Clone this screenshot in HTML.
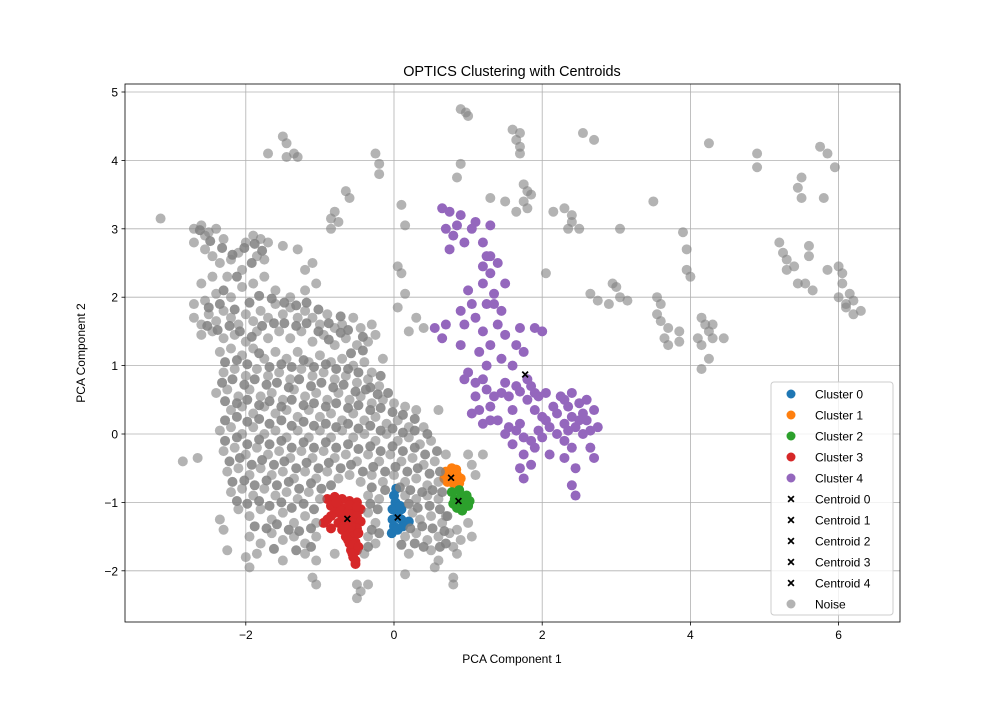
<!DOCTYPE html>
<html><head><meta charset="utf-8"><style>
body{margin:0;background:#fff;}
svg text{font-family:"Liberation Sans",sans-serif;fill:#000;}
</style></head><body>
<svg id="chart" width="1000" height="700" xmlns="http://www.w3.org/2000/svg">
<rect width="1000" height="700" fill="#fff"/>
<g id="grid"></g><g id="marks"></g><g id="axes"></g><g id="legend"></g>
</svg>
<script>
const xTicks=[-2,0,2,4,6];
const yTicks=[-2,-1,0,1,2,3,4,5];
const clusterNames=["Cluster 0","Cluster 1","Cluster 2","Cluster 3","Cluster 4"];
const clusterColors=["#1f77b4","#ff7f0e","#2ca02c","#d62728","#9467bd"];
const centroidX=[0.05,0.77,0.87,-0.63,1.77];
const centroidY=[-1.22,-0.64,-0.98,-1.24,0.87];
const cluster0=[0,-0.9,0.02,-1.0,-0.02,-1.1,0.05,-1.2,0.1,-1.25,0.15,-1.3,0.2,-1.28,0.0,-1.35,-0.03,-1.45,0.05,-1.4,0.1,-1.1,0.03,-0.8,0.08,-1.05,-0.02,-1.25,0.12,-1.35];
const cluster1=[0.7,-0.55,0.75,-0.6,0.8,-0.58,0.85,-0.6,0.9,-0.65,0.72,-0.7,0.8,-0.72,0.88,-0.72,0.68,-0.65,0.78,-0.5,0.84,-0.52,0.74,-0.66];
const cluster2=[0.78,-0.85,0.82,-0.95,0.9,-0.92,0.95,-1.0,1.0,-1.05,1.02,-0.98,0.85,-1.08,0.92,-1.12,0.8,-1.02,0.98,-0.9,0.88,-0.82,0.86,-1.0,0.94,-1.06];
const cluster3=[-0.9,-0.95,-0.8,-0.92,-0.7,-0.95,-0.6,-0.98,-0.5,-1.0,-0.85,-1.05,-0.75,-1.05,-0.65,-1.08,-0.55,-1.1,-0.45,-1.1,-0.8,-1.15,-0.7,-1.2,-0.6,-1.2,-0.5,-1.2,-0.9,-1.25,-0.75,-1.3,-0.65,-1.3,-0.55,-1.3,-0.45,-1.28,-0.7,-1.4,-0.6,-1.4,-0.5,-1.38,-0.65,-1.5,-0.55,-1.5,-0.48,-1.45,-0.6,-1.6,-0.52,-1.58,-0.58,-1.7,-0.5,-1.7,-0.55,-1.8,-0.52,-1.9,-0.95,-1.3,-0.85,-1.38,-0.85,-1.2,-0.72,-1.12,-0.62,-1.15,-0.58,-1.35,-0.68,-1.35,-0.62,-1.55,-0.55,-1.62,-0.48,-1.65,-0.56,-1.75,-0.52,-1.85,-0.78,-1.0,-0.6,-1.04,-0.5,-1.06];
const cluster4=[0.65,3.3,0.75,3.25,0.9,3.2,0.7,3.0,0.8,2.9,0.75,2.7,0.95,2.8,1.1,3.1,1.3,3.05,1.2,2.8,1.3,2.6,1.4,2.5,1.3,2.35,1.2,2.2,1.35,2.05,1.5,2.2,1.45,1.8,1.25,1.9,1.0,2.1,1.05,1.9,0.9,1.8,1.1,1.7,0.95,1.6,0.7,1.6,0.55,1.55,0.65,1.4,0.9,1.3,1.2,1.5,1.3,1.3,1.15,1.2,1.5,1.45,1.7,1.55,1.9,1.55,2.0,1.5,1.65,1.3,1.45,1.1,1.25,1.0,1.6,1.0,1.8,0.8,1.65,0.7,1.45,0.6,1.2,0.8,0.95,0.8,1.1,0.55,1.3,0.4,1.05,0.3,1.2,0.15,1.4,0.2,1.55,0.1,1.7,0.15,1.6,0.35,1.8,0.5,1.9,0.35,1.95,0.55,2.05,0.6,1.75,-0.05,1.6,-0.15,1.75,-0.3,1.85,-0.45,1.7,-0.5,1.75,-0.65,1.9,-0.2,2.0,-0.05,2.1,0.1,2.2,0.3,2.3,0.5,2.4,0.6,2.5,0.45,2.6,0.5,2.7,0.35,2.55,0.3,2.4,0.25,2.3,0.15,2.45,0.1,2.2,0.0,2.3,-0.1,2.4,-0.2,2.55,0.0,2.1,-0.3,2.3,-0.35,2.45,-0.5,2.4,-0.75,2.45,-0.9,2.65,-0.2,2.7,-0.35,2.75,0.1,1.75,1.2,1.5,0.75,2.0,0.25,
1.85,0.7,1.9,0.6,1.7,0.62,1.55,0.55,1.35,0.55,1.25,0.65,1.1,0.75,1.0,0.9,1.15,0.35,1.3,0.2,1.5,0.0,1.65,0.05,2.35,0.4,2.5,0.2,2.6,0.2,2.65,0.05,2.25,0.55,2.15,0.4,2.05,0.2,1.95,0.05,1.85,-0.1,2.35,0.05,1.4,1.6,1.35,1.9,1.25,2.6,1.2,2.45,1.05,3.0,0.85,3.05];
const noise=[
-3.15,3.15,-2.85,-0.4,-2.65,-0.35,-2.7,3.0,-2.6,3.05,-2.55,2.9,-2.5,2.95,-2.4,3.0,-2.3,2.85,-2.7,2.8,-2.55,2.7,-2.45,2.6,-2.35,2.5,-2.2,2.55,-2.1,2.65,-2.0,2.8,-1.9,2.9,-1.8,2.85,-1.7,2.8,-1.85,2.6,-1.75,2.55,-2.05,2.4,-2.25,2.3,-2.45,2.3,-2.6,2.2,-2.7,1.9,-2.55,1.95,-2.4,2.05,-2.2,2.0,-2.05,2.15,-1.9,2.2,-1.75,2.3,-1.6,2.1,-1.4,2.0,-1.2,2.4,-1.1,2.5,-1.3,2.7,-1.5,2.75,-1.2,2.1,-1.05,2.2,
-2.7,1.7,-2.6,1.6,-2.5,1.75,-2.4,1.65,-2.3,1.8,-2.2,1.7,-2.1,1.6,-2.0,1.75,-1.9,1.65,-1.8,1.8,-1.7,1.7,-1.6,1.9,-1.5,1.75,-1.4,1.85,-1.3,1.7,-1.2,1.8,-1.1,1.7,-1.0,1.6,-0.9,1.75,-0.8,1.55,-0.7,1.6,-0.55,1.7,-0.45,1.55,-0.3,1.6,-0.25,1.45,-2.6,1.45,-2.45,1.5,-2.3,1.4,-2.15,1.45,-2.0,1.35,-1.85,1.5,-1.7,1.4,-1.55,1.5,-1.4,1.4,-1.25,1.5,-1.1,1.35,-0.95,1.45,-0.8,1.3,-0.65,1.4,-0.5,1.3,-0.35,1.35,-2.35,1.2,-2.2,1.25,-2.05,1.15,-1.9,1.25,-1.75,1.1,-1.6,1.2,-1.45,1.1,-1.3,1.2,-1.15,1.05,-1.0,1.15,-0.85,1.05,-0.7,1.1,-0.55,1.0,-0.4,1.05,-0.3,0.9,-0.15,1.1,0.05,1.85,0.15,2.05,0.3,1.7,0.2,1.5,0.4,1.55,
-2.3,0.9,-2.15,0.95,-2.0,0.85,-1.85,0.95,-1.7,0.85,-1.55,0.9,-1.4,0.8,-1.25,0.95,-1.1,0.85,-0.95,0.9,-0.8,0.8,-0.65,0.85,-0.5,0.75,-0.35,0.8,-0.2,0.7,-2.4,0.6,-2.25,0.65,-2.1,0.55,-1.95,0.65,-1.8,0.55,-1.65,0.6,-1.5,0.5,-1.35,0.65,-1.2,0.55,-1.05,0.6,-0.9,0.5,-0.75,0.6,-0.6,0.5,-0.45,0.55,-0.3,0.45,-0.15,0.5,0.0,0.45,0.15,0.4,0.3,0.35,-2.2,0.35,-2.05,0.4,-1.9,0.3,-1.75,0.4,-1.6,0.3,-1.45,0.35,-1.3,0.25,-1.15,0.35,-1.0,0.25,-0.85,0.3,-0.7,0.2,-0.55,0.3,-0.4,0.2,-0.25,0.25,-0.1,0.15,0.05,0.2,0.2,0.1,0.4,0.1,0.6,0.35,
-2.35,0.05,-2.2,0.1,-2.05,0.0,-1.9,0.1,-1.75,0.0,-1.6,0.05,-1.45,-0.05,-1.3,0.05,-1.15,-0.05,-1.0,0.05,-0.85,-0.05,-0.7,0.05,-0.55,-0.05,-0.4,0.0,-0.25,-0.1,-0.1,0.0,0.05,-0.1,0.2,-0.05,0.35,-0.15,0.5,-0.1,-2.3,-0.25,-2.15,-0.2,-2.0,-0.3,-1.85,-0.2,-1.7,-0.3,-1.55,-0.25,-1.4,-0.35,-1.25,-0.25,-1.1,-0.35,-0.95,-0.25,-0.8,-0.35,-0.65,-0.3,-0.5,-0.4,-0.35,-0.3,-0.2,-0.4,-0.05,-0.3,0.1,-0.4,0.25,-0.35,0.4,-0.45,0.55,-0.4,0.7,-0.3,1.0,-0.3,
-2.25,-0.55,-2.1,-0.5,-1.95,-0.6,-1.8,-0.5,-1.65,-0.6,-1.5,-0.55,-1.35,-0.65,-1.2,-0.55,-1.05,-0.65,-0.9,-0.55,-0.75,-0.65,-0.6,-0.6,-0.45,-0.7,-0.3,-0.6,-0.15,-0.7,0.0,-0.6,0.15,-0.7,0.3,-0.65,0.45,-0.75,0.6,-0.7,-2.2,-0.85,-2.05,-0.8,-1.9,-0.9,-1.75,-0.8,-1.6,-0.9,-1.45,-0.85,-1.3,-0.95,-1.15,-0.85,-1.0,-0.95,-0.35,-0.9,-0.2,-0.95,0.15,-0.9,0.3,-0.95,0.45,-0.9,0.6,-0.95,
-2.35,-1.25,-2.3,-1.4,-2.25,-1.7,-2.1,-1.1,-1.95,-1.2,-1.8,-1.1,-1.65,-1.25,-1.5,-1.15,-1.35,-1.3,-1.2,-1.2,-1.05,-1.3,-0.35,-1.15,-0.25,-1.3,0.25,-1.15,0.35,-1.25,0.5,-1.2,0.65,-1.3,-1.95,-1.5,-1.8,-1.6,-1.65,-1.45,-1.5,-1.55,-1.35,-1.5,-1.2,-1.6,-1.05,-1.5,-0.35,-1.5,-0.25,-1.6,0.15,-1.5,0.3,-1.45,0.45,-1.55,0.6,-1.5,0.75,-1.45,0.85,-1.4,-2.0,-1.8,-1.85,-1.75,-1.5,-1.85,-1.2,-1.75,-1.05,-1.85,-0.8,-1.75,-0.4,-1.75,0.2,-1.75,0.5,-1.7,0.6,-1.85,0.8,-1.65,0.85,-1.75,-1.95,-1.95,-1.1,-2.1,-1.05,-2.2,-0.5,-2.2,-0.45,-2.3,-0.5,-2.4,-0.35,-2.2,0.15,-2.05,0.55,-1.95,0.8,-2.1,0.8,-2.2,1.1,-0.6,1.05,-0.45,0.7,-1.2,1.0,-1.3,1.05,-1.5,0.9,-1.55,1.2,-0.3,
-1.5,4.35,-1.45,4.25,-1.35,4.1,-1.45,4.05,-1.3,4.05,-1.7,4.1,-0.65,3.55,-0.6,3.45,-0.8,3.25,-0.85,3.15,-0.75,3.1,-0.85,3.0,-0.25,4.1,-0.2,3.95,-0.2,3.8,0.1,3.35,0.15,3.05,0.05,2.45,0.1,2.35,0.9,4.75,0.97,4.7,1.0,4.65,0.9,3.95,0.85,3.75,1.3,3.45,1.5,3.4,1.6,4.45,1.7,4.4,1.65,4.3,1.7,4.2,1.7,4.1,1.75,3.65,1.8,3.55,1.85,3.5,1.75,3.4,1.8,3.3,1.65,3.25,2.05,2.35,2.15,3.25,2.3,3.3,2.4,3.2,2.4,3.1,2.35,3.0,2.5,3.0,2.55,4.4,2.7,4.3,2.65,2.05,2.75,1.95,2.9,1.9,2.95,2.2,3.0,2.15,3.05,2.0,3.05,3.0,3.15,1.95,3.5,3.4,3.55,2.0,3.6,1.9,3.55,1.75,3.6,1.65,3.7,1.55,3.65,1.4,3.7,1.3,3.85,1.5,3.85,1.35,3.9,2.95,3.95,2.7,3.95,2.4,4.0,2.3,4.15,1.7,4.2,1.6,4.25,1.5,4.1,1.4,4.15,1.3,4.3,1.4,4.45,1.4,4.3,1.6,4.15,0.95,4.25,1.1,4.25,4.25,4.9,4.1,4.9,3.9,5.2,2.8,5.25,2.65,5.3,2.55,5.4,2.45,5.45,2.2,5.55,2.2,5.3,2.4,5.5,3.75,5.45,3.6,5.5,3.45,5.6,2.75,5.6,2.6,5.65,2.1,5.75,4.2,5.8,3.45,5.85,4.1,5.85,2.4,5.95,3.9,6.0,2.45,6.05,2.35,6.05,2.2,6.0,2.0,6.1,1.9,6.15,2.05,6.2,1.95,6.2,1.75,6.3,1.8,6.1,1.85];
const noiseDense=[
-2.62,2.98,-2.48,2.82,-2.32,2.72,-2.18,2.62,-2.02,2.72,-1.88,2.78,-1.78,2.68,-1.92,2.5,-2.12,2.3,-2.3,2.1,-2.5,1.85,-2.35,1.9,-2.15,1.82,-1.95,1.92,-1.82,2.02,-1.65,1.98,-1.48,1.92,-1.32,1.88,-1.18,1.92,-1.02,1.82,-0.88,1.62,-0.72,1.72,-0.62,1.52,-0.42,1.42,-2.52,1.58,-2.38,1.52,-2.22,1.58,-2.08,1.5,-1.92,1.42,-1.78,1.58,-1.62,1.62,-1.48,1.62,-1.32,1.58,-1.18,1.62,-1.02,1.5,-0.88,1.38,-0.72,1.48,-0.58,1.18,-0.42,1.22,-2.28,1.05,-2.12,1.08,-1.98,1.02,-1.82,1.18,-1.68,0.98,-1.52,1.02,-1.38,0.98,-1.22,1.08,-1.08,0.98,-0.92,1.02,-0.78,0.95,-0.62,0.95,-0.48,0.9,-0.32,0.68,-0.18,0.85,
-2.32,0.75,-2.18,0.8,-2.02,0.72,-1.88,0.8,-1.72,0.72,-1.58,0.75,-1.42,0.68,-1.28,0.8,-1.12,0.7,-0.98,0.75,-0.82,0.68,-0.68,0.72,-0.52,0.62,-0.38,0.65,-0.22,0.58,-0.08,0.6,-2.28,0.48,-2.12,0.45,-1.98,0.5,-1.82,0.42,-1.68,0.48,-1.52,0.4,-1.38,0.5,-1.22,0.42,-1.08,0.45,-0.92,0.4,-0.78,0.45,-0.62,0.38,-0.48,0.42,-0.32,0.35,-0.18,0.38,-0.02,0.32,0.12,0.28,0.28,0.22,-2.28,0.2,-2.12,0.25,-1.98,0.18,-1.82,0.22,-1.68,0.15,-1.52,0.2,-1.38,0.12,-1.22,0.18,-1.08,0.12,-0.92,0.15,-0.78,0.1,-0.62,0.15,-0.48,0.08,-0.32,0.12,-0.18,0.05,-0.02,0.08,0.12,0.02,0.28,0.05,0.45,0.0,
-2.28,-0.1,-2.12,-0.05,-1.98,-0.15,-1.82,-0.08,-1.68,-0.15,-1.52,-0.1,-1.38,-0.2,-1.22,-0.12,-1.08,-0.2,-0.92,-0.12,-0.78,-0.2,-0.62,-0.15,-0.48,-0.22,-0.32,-0.18,-0.18,-0.25,-0.02,-0.18,0.12,-0.25,0.28,-0.2,0.42,-0.3,0.58,-0.25,-2.22,-0.4,-2.08,-0.35,-1.92,-0.45,-1.78,-0.38,-1.62,-0.45,-1.48,-0.4,-1.32,-0.5,-1.18,-0.42,-1.02,-0.5,-0.88,-0.42,-0.72,-0.5,-0.58,-0.45,-0.42,-0.55,-0.28,-0.48,-0.12,-0.55,0.02,-0.48,0.18,-0.55,0.32,-0.5,0.48,-0.58,0.62,-0.55,
-2.18,-0.7,-2.02,-0.68,-1.88,-0.75,-1.72,-0.68,-1.58,-0.75,-1.42,-0.7,-1.28,-0.8,-1.12,-0.72,-0.98,-0.8,-0.85,-0.75,-0.3,-0.78,-0.12,-0.82,0.08,-0.78,0.22,-0.82,0.38,-0.85,0.52,-0.82,0.65,-0.85,-2.12,-0.98,-1.98,-1.02,-1.82,-0.98,-1.68,-1.05,-1.52,-1.0,-1.38,-1.08,-1.22,-1.02,-1.08,-1.1,-0.32,-1.02,-0.22,-1.1,0.2,-1.02,0.32,-1.08,0.48,-1.05,0.62,-1.1,0.72,-1.2,-1.88,-1.35,-1.72,-1.38,-1.58,-1.32,-1.42,-1.4,-1.28,-1.42,-1.12,-1.38,-0.3,-1.4,-0.2,-1.45,0.22,-1.38,0.38,-1.35,0.52,-1.38,0.68,-1.42,0.4,-1.65,0.62,-1.65,0.7,-1.6,-1.62,-1.68,-1.32,-1.7,-1.12,-1.65,-0.35,-1.65,0.1,-1.62,0.28,-1.6];
const X0=394,XS=74.1,Y0=434,YS=68.4;
function sx(v){return X0+v*XS;}
function sy(v){return Y0-v*YS;}
const NS="http://www.w3.org/2000/svg";
function mk(parent,tag,attrs){const e=document.createElementNS(NS,tag);for(const k in attrs)e.setAttribute(k,attrs[k]);parent.appendChild(e);return e;}
const grid=document.getElementById('grid'),marks=document.getElementById('marks'),axes=document.getElementById('axes'),legend=document.getElementById('legend');
const L=125,R=900,T=84,B=622,RAD=5;
xTicks.forEach(t=>{const x=sx(t);
 const g=mk(grid,'line',{x1:x,x2:x,y1:T,y2:B,stroke:'#b0b0b0','stroke-width':0.8});
 
 
 mk(axes,'line',{x1:x,x2:x,y1:B,y2:B+3.5,stroke:'#000','stroke-width':0.8});
 const tx=mk(axes,'text',{x:x,y:B+17,'text-anchor':'middle','font-size':12});tx.textContent=(t<0?'\u2212'+(-t):t);
 
 });
yTicks.forEach(t=>{const y=sy(t);
 const g=mk(grid,'line',{x1:L,x2:R,y1:y,y2:y,stroke:'#b0b0b0','stroke-width':0.8});
 
 
 mk(axes,'line',{x1:L-3.5,x2:L,y1:y,y2:y,stroke:'#000','stroke-width':0.8});
 const tx=mk(axes,'text',{x:L-7,y:y+4.5,'text-anchor':'end','font-size':12});tx.textContent=(t<0?'\u2212'+(-t):t);
 
 });
const clusters=[cluster0,cluster1,cluster2,cluster3,cluster4];
clusters.forEach((arr,ci)=>{for(let i=0;i<arr.length;i+=2){
 const c=mk(marks,'circle',{cx:sx(arr[i]),cy:sy(arr[i+1]),r:RAD,fill:clusterColors[ci]});
 
 }});
function cross(parent,x,y,s){const d=`M${x-s},${y-s+1.2}L${x-s+1.2},${y-s}L${x},${y-1.2}L${x+s-1.2},${y-s}L${x+s},${y-s+1.2}L${x+1.2},${y}L${x+s},${y+s-1.2}L${x+s-1.2},${y+s}L${x},${y+1.2}L${x-s+1.2},${y+s}L${x-s},${y+s-1.2}L${x-1.2},${y}Z`;return mk(parent,'path',{d:d,fill:'#000'});}
for(let i=0;i<centroidX.length;i++){const p=cross(marks,sx(centroidX[i]),sy(centroidY[i]),3.5);
 
 }
[noise,noiseDense].forEach((arr,k)=>{for(let i=0;i<arr.length;i+=2){
 const c=mk(marks,'circle',{cx:sx(arr[i]),cy:sy(arr[i+1]),r:RAD,fill:'#808080','fill-opacity':k?0.85:0.6});
 
 }});
const fr=mk(axes,'rect',{x:L,y:T,width:R-L,height:B-T,fill:'none',stroke:'#000','stroke-width':0.8});


const ttl=mk(axes,'text',{x:512,y:76,'text-anchor':'middle','font-size':14.4});ttl.textContent='OPTICS Clustering with Centroids';


const xl=mk(axes,'text',{x:512,y:663,'text-anchor':'middle','font-size':12});xl.textContent='PCA Component 1';


const yl=mk(axes,'text',{x:85,y:353,'text-anchor':'middle','font-size':12,transform:'rotate(-90 85 353)'});yl.textContent='PCA Component 2';


const lb=mk(legend,'rect',{x:771,y:382,width:122,height:233,rx:3,fill:'#fff','fill-opacity':0.8,stroke:'#ccc'});


const entries=clusterNames.concat(['Centroid 0','Centroid 1','Centroid 2','Centroid 3','Centroid 4','Noise']);
entries.forEach((name,i)=>{const y=394+i*21;
 let m;
 if(i<5)m=mk(legend,'circle',{cx:791,cy:y,r:4.5,fill:clusterColors[i]});
 else if(i<10)m=cross(legend,791,y,3.5);
 else m=mk(legend,'circle',{cx:791,cy:y,r:4.5,fill:'#808080','fill-opacity':0.6});
 
 
 const t=mk(legend,'text',{x:815,y:y+4.5,'font-size':12});t.textContent=name;
 
 });
</script>
</body></html>
